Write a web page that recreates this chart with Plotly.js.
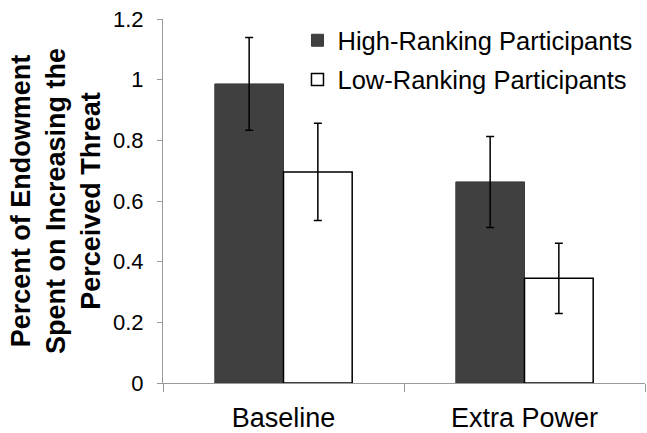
<!DOCTYPE html>
<html>
<head>
<meta charset="utf-8">
<script src="https://cdn.plot.ly/plotly-3.0.1.min.js"></script>
<style>html,body{margin:0;padding:0;background:#fff;}#chart{width:647px;height:433px;}</style>
</head>
<body>
<div id="chart"></div>
<script>
const categories = ["Baseline", "Extra Power"];
const highValues = [0.986, 0.663];
const highErrors = [0.153, 0.150];
const lowValues = [0.696, 0.345];
const lowErrors = [0.160, 0.116];
const seriesNames = ["High-Ranking Participants", "Low-Ranking Participants"];
const yTicks = [0, 0.2, 0.4, 0.6, 0.8, 1, 1.2];
const yTickLabels = ["0", "0.2", "0.4", "0.6", "0.8", "1", "1.2"];

const traces = [
  {
    type: "bar", name: seriesNames[0], x: categories, y: highValues, legendgroup: "h",
    marker: {color: "#404040", line: {color: "#3a3a3a", width: 1}},
    error_y: {type: "data", array: highErrors, visible: true, color: "#000", thickness: 1.5, width: 4}
  },
  {
    type: "bar", name: seriesNames[1], x: categories, y: lowValues, legendgroup: "l",
    marker: {color: "#ffffff", line: {color: "#000000", width: 1.5}},
    error_y: {type: "data", array: lowErrors, visible: true, color: "#000", thickness: 1.5, width: 4}
  }
];

const layout = {
  width: 647, height: 433,
  margin: {l: 163, r: 2, t: 19, b: 50},
  paper_bgcolor: "#fff", plot_bgcolor: "#fff",
  font: {family: "Liberation Sans, Arial, sans-serif", color: "#000"},
  barmode: "group", bargap: 0.43, bargroupgap: 0,
  showlegend: true,
  legend: {x: 0.279, y: 1.005, xanchor: "left", yanchor: "top", font: {size: 25.5, color: "#000"},
           bgcolor: "rgba(0,0,0,0)", tracegroupgap: 3, itemwidth: 30},
  xaxis: {
    type: "category", showline: true, linecolor: "#9a9a9a", linewidth: 1,
    ticks: "outside", tickson: "boundaries", ticklen: 8, tickcolor: "#9a9a9a",
    tickfont: {size: 27, color: "#000"}, ticklabelstandoff: 11,
    showgrid: false, zeroline: false
  },
  yaxis: {
    range: [0, 1.2], tickvals: yTicks, ticktext: yTickLabels,
    showline: true, linecolor: "#9a9a9a", linewidth: 1,
    ticks: "outside", ticklen: 5, tickcolor: "#9a9a9a",
    tickfont: {size: 22, color: "#000"}, ticklabelstandoff: 9,
    showgrid: false, zeroline: false,
    title: {text: "<b>Percent of Endowment<br>Spent on Increasing the<br>Perceived Threat</b>",
            font: {size: 27, color: "#000"}, standoff: 4}
  }
};

Plotly.newPlot("chart", traces, layout, {staticPlot: true, displayModeBar: false});
</script>
</body>
</html>
